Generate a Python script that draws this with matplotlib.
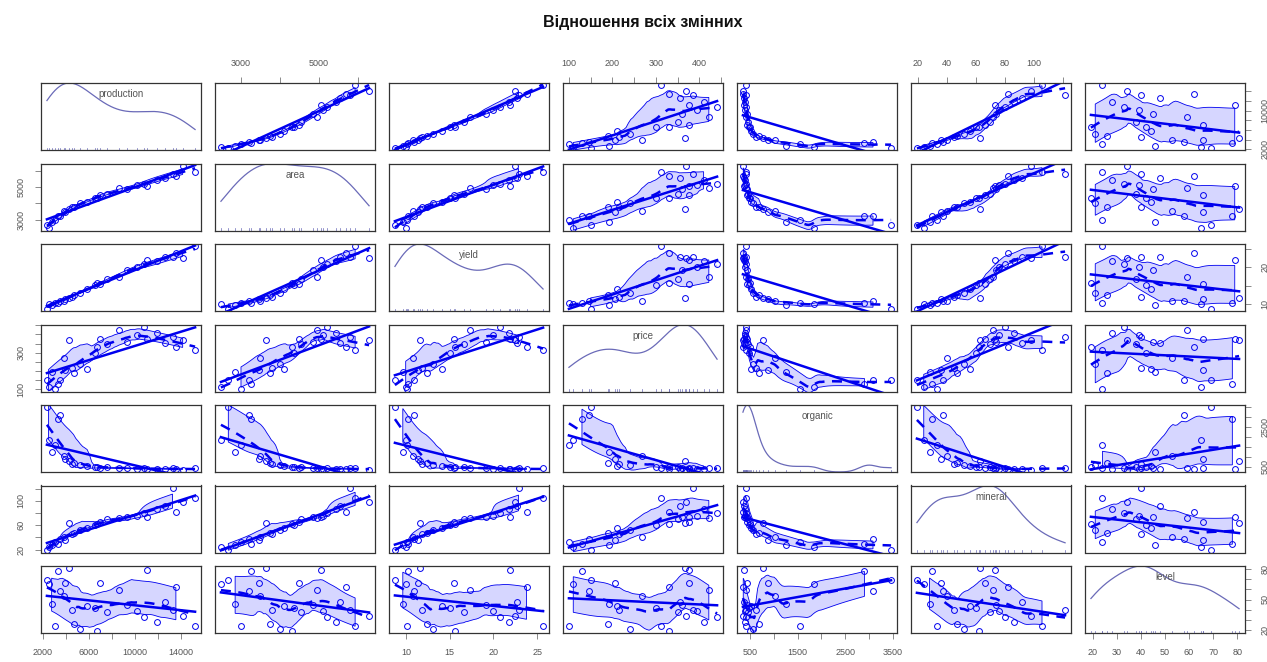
import numpy as np
import matplotlib
matplotlib.use("Agg")
import matplotlib.pyplot as plt

plt.rcParams['font.family'] = ['Liberation Sans', 'DejaVu Sans']

TITLE = "Відношення всіх змінних"
var_names = ["production", "area", "yield", "price", "organic", "mineral", "level"]

production = [2340, 2480, 2750, 3050, 3340, 3490, 3800, 3930, 4220, 4500, 4660, 5240, 5800, 6550,
              6700, 6990, 7600, 8600, 9300, 10200, 10800, 11080, 11900, 12600, 13270, 13560, 14150, 15230]
area = [2675, 2485, 2850, 3000, 3250, 3200, 3500, 3450, 3650, 3800, 3750, 4000, 4100, 4350,
        4300, 4500, 4550, 4950, 4850, 5100, 5200, 5050, 5450, 5550, 5800, 5700, 6288, 5930]
yield_values = [8.75, 9.98, 9.65, 10.17, 10.28, 10.91, 10.86, 11.39, 11.56, 11.84, 12.43, 13.10, 14.15, 15.06,
                15.58, 15.53, 16.70, 17.37, 19.18, 20.00, 20.77, 21.94, 21.83, 22.70, 22.88, 23.79, 22.50, 25.68]
price = [150, 110, 192, 100, 130, 147, 268, 205, 367, 215, 190, 240, 210, 300,
         330, 376, 350, 422, 360, 395, 441, 376, 410, 355, 385, 330, 370, 312]
organic = [3459, 1850, 1250, 1560, 2900, 3080, 1020, 880, 770, 620, 690, 560, 520, 470,
           500, 430, 455, 410, 440, 390, 420, 380, 400, 370, 420, 360, 353, 410]
mineral = [19.3, 24, 28, 33, 30, 37, 40, 36, 63, 45, 47, 52, 56, 60,
           62, 66, 70, 72, 74, 76, 80, 73, 86, 92, 121.4, 82, 98, 105.5]
level = [69, 65, 46, 24, 78, 58, 53, 66, 80.8, 40, 26, 21, 44, 42,
         19.2, 66, 38, 59, 45, 39, 33, 79, 28, 48, 40, 62, 34, 24]

# axis ticks and which tick labels are printed (horizontal / vertical axes)
tick_values = {
    "production": [2000, 4000, 6000, 8000, 10000, 12000, 14000],
    "area": [3000, 4000, 5000, 6000],
    "yield": [10, 15, 20, 25],
    "price": [100, 150, 200, 250, 300, 350, 400, 450],
    "organic": [500, 1000, 1500, 2000, 2500, 3000, 3500],
    "mineral": [20, 40, 60, 80, 100, 120],
    "level": [20, 30, 40, 50, 60, 70, 80],
}
h_labels = {
    "production": [2000, 6000, 10000, 14000],
    "area": [3000, 5000],
    "yield": [10, 15, 20, 25],
    "price": [100, 200, 300, 400],
    "organic": [500, 1500, 2500, 3500],
    "mineral": [20, 40, 60, 80, 100],
    "level": [20, 30, 40, 50, 60, 70, 80],
}
v_labels = {
    "production": [2000, 10000],
    "area": [3000, 5000],
    "yield": [10, 20],
    "price": [100, 300],
    "organic": [500, 2500],
    "mineral": [20, 60, 100],
    "level": [20, 50, 80],
}

data = {n: np.asarray(v, float) for n, v in zip(
    var_names, [production, area, yield_values, price, organic, mineral, level])}

BLUE = "#0000EE"
DENS = "#6a6ab8"


def loess_fit(x, y, xe, span=0.5, degree=1):
    n = len(x)
    q = max(int(np.floor(n * span)), degree + 2)
    q = min(q, n)
    out = np.empty(len(xe))
    for k, x0 in enumerate(xe):
        d = np.abs(x - x0)
        h = np.sort(d)[q - 1] * 1.0001 + 1e-12
        w = np.clip(1 - (d / h) ** 3, 0, None) ** 3
        sw = w.sum()
        if sw <= 0:
            out[k] = y.mean()
            continue
        xm = (w * x).sum() / sw
        ym = (w * y).sum() / sw
        if degree == 0:
            out[k] = ym
            continue
        sxx = (w * (x - xm) ** 2).sum()
        if sxx <= 1e-12:
            out[k] = ym
        else:
            b = (w * (x - xm) * (y - ym)).sum() / sxx
            out[k] = ym + b * (x0 - xm)
    return out


def bw_nrd0(x):
    s = np.std(x, ddof=1)
    q75, q25 = np.percentile(x, [75, 25])
    lo = min(s, (q75 - q25) / 1.34)
    if lo <= 0:
        lo = s
    return 0.9 * lo * len(x) ** -0.2


def lims(v):
    r = v.max() - v.min()
    return v.min() - 0.04 * r, v.max() + 0.04 * r


W, H = 1267, 662
fig = plt.figure(figsize=(W / 100, H / 100), dpi=100)
fig.patch.set_facecolor("white")

PW, PH = 160, 67
for i, yn in enumerate(var_names):
    for j, xn in enumerate(var_names):
        x0 = 41 + 174 * j
        y0 = 83 + 80.5 * i
        ax = fig.add_axes([x0 / W, 1 - (y0 + PH) / H, PW / W, PH / H])
        for sp in ax.spines.values():
            sp.set_color("#333333")
            sp.set_linewidth(0.9)
        x = data[xn]
        xlim = lims(x)
        ylim = lims(data[yn])
        if i == j:
            bw = bw_nrd0(x)
            g = np.linspace(x.min(), x.max(), 200)
            dens = np.exp(-0.5 * ((g[:, None] - x[None, :]) / bw) ** 2).sum(1) / (len(x) * bw * np.sqrt(2 * np.pi))
            lo, hi = ylim
            yd = lo + dens / dens.max() * (hi - lo)
            ax.plot(g, yd, color=DENS, lw=0.9)
            for xv in x:
                ax.plot([xv, xv], [lo, lo + 0.03 * (hi - lo)], color=DENS, lw=0.5)
            ax.text(0.5, 0.83, xn, transform=ax.transAxes, ha="center", va="center",
                    fontsize=7, color="#555555")
        else:
            y = data[yn]
            order = np.argsort(x)
            xs, ys = x[order], y[order]
            fit_x = loess_fit(xs, ys, xs)
            r = ys - fit_x
            pos = r > 0
            neg = r < 0
            if pos.sum() >= 2 and neg.sum() >= 2:
                a = max(xs[pos].min(), xs[neg].min())
                b = min(xs[pos].max(), xs[neg].max())
                gg = np.linspace(a, b, 60)
                sm_g = loess_fit(xs, ys, gg)
                up = sm_g + np.sqrt(np.maximum(loess_fit(xs[pos], r[pos] ** 2, gg, degree=0), 0))
                dn = sm_g - np.sqrt(np.maximum(loess_fit(xs[neg], r[neg] ** 2, gg, degree=0), 0))
                px = np.concatenate([gg, gg[::-1]])
                py = np.concatenate([up, dn[::-1]])
                ax.fill(px, py, facecolor=(0, 0, 1, 0.16), edgecolor=BLUE, lw=0.6)
            gfull = np.linspace(xs.min(), xs.max(), 80)
            ax.plot(gfull, loess_fit(xs, ys, gfull), color=BLUE, lw=1.8, ls=(0, (4, 3)))
            coef = np.polyfit(x, y, 1)
            ax.plot([x.min(), x.max()], np.polyval(coef, [x.min(), x.max()]), color=BLUE, lw=1.8)
            ax.plot(x, y, "o", mfc="none", mec=BLUE, ms=4.2, mew=0.7)

        ax.set_xticks([])
        ax.set_yticks([])
        tp = dict(direction="out", length=4, width=0.6, color="#777777",
                  labelsize=6.5, labelcolor="#555555", pad=7)
        if i == 0 and j % 2 == 1:
            ax.xaxis.set_ticks_position("top")
            ax.set_xticks(tick_values[xn])
            ax.set_xticklabels([str(t) if t in h_labels[xn] else "" for t in tick_values[xn]])
            ax.tick_params(axis="x", top=True, bottom=False, labeltop=True, labelbottom=False, **tp)
        if i == 6 and j % 2 == 0:
            ax.set_xticks(tick_values[xn])
            ax.set_xticklabels([str(t) if t in h_labels[xn] else "" for t in tick_values[xn]])
            ax.tick_params(axis="x", **tp)
        if j == 0 and i % 2 == 1:
            ax.set_yticks(tick_values[yn])
            ax.set_yticklabels([str(t) if t in v_labels[yn] else "" for t in tick_values[yn]],
                               rotation=90, va="center")
            ax.tick_params(axis="y", **tp)
        if j == 6 and i % 2 == 0:
            ax.yaxis.set_ticks_position("right")
            ax.set_yticks(tick_values[yn])
            ax.set_yticklabels([str(t) if t in v_labels[yn] else "" for t in tick_values[yn]],
                               rotation=90, va="center")
            ax.tick_params(axis="y", left=False, right=True, labelleft=False, labelright=True, **tp)
        ax.set_xlim(*xlim)
        ax.set_ylim(*ylim)

fig.text(643 / W, 1 - 22 / H, TITLE, ha="center", va="center", fontsize=11.5,
         fontweight="bold", color="#111111")

fig.savefig("out.png", dpi=100, facecolor="white")
